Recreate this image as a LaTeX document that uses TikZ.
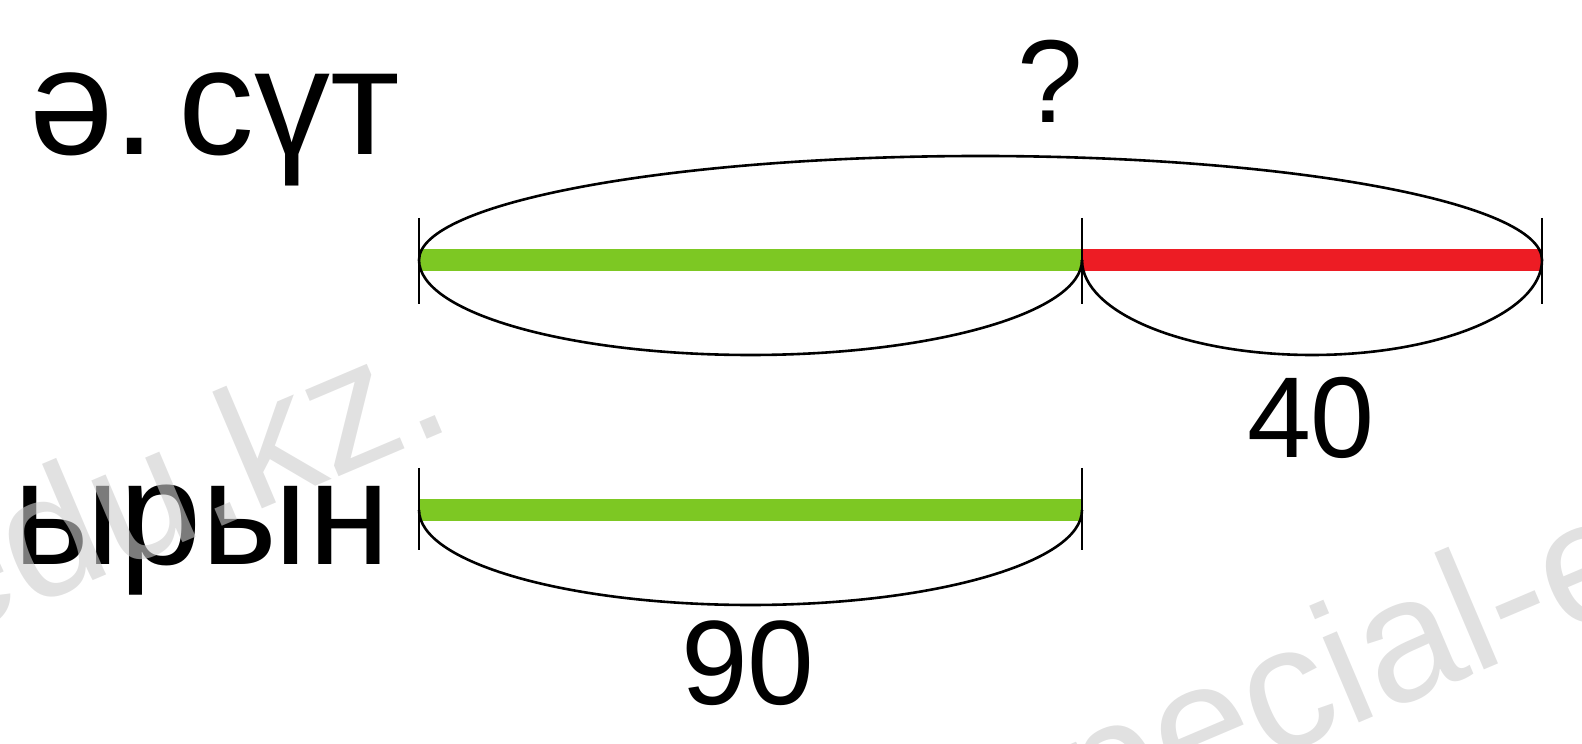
\documentclass[tikz,border=0pt]{standalone}
\usepackage{fontspec}
\setmainfont{Liberation Sans}
\definecolor{bargreen}{RGB}{125,200,35}
\definecolor{barred}{RGB}{237,28,36}
\definecolor{wmark}{RGB}{205,205,205}
\begin{document}
\begin{tikzpicture}[x=1pt,y=1pt,
  bar/.style={line width=22pt,line cap=butt},
  tick/.style={line width=1.8pt},
  brace/.style={line width=2.6pt},
  lbl/.style={inner sep=0pt,font=\fontsize{118}{130}\selectfont},
  word/.style={inner sep=0pt},
  wm/.style={inner sep=0pt,text=wmark,text opacity=0.6,font=\fontsize{175}{190}\selectfont,rotate=23}]
\useasboundingbox (0,0) rectangle (1582,744);
\clip (0,0) rectangle (1582,744);
% coordinates
\coordinate (a) at (419,484);
\coordinate (b) at (1082,484);
\coordinate (c) at (1542,484);
\coordinate (d) at (419,234);
\coordinate (e) at (1082,234);
% bars
\draw[bar,bargreen] (a) -- (b);
\draw[bar,barred] (b) -- (c);
\draw[bar,bargreen] (d) -- (e);
% ticks
\foreach \p in {a,b,c} \draw[tick] ([yshift=42pt]\p) -- ([yshift=-44pt]\p);
\foreach \p in {d,e} \draw[tick] ([yshift=42pt]\p) -- ([yshift=-40pt]\p);
% arcs
\draw[brace] (a) arc[start angle=180,end angle=0,x radius=561.5,y radius=104];
\draw[brace] (a) arc[start angle=180,end angle=360,x radius=331.5,y radius=95];
\draw[brace] (b) arc[start angle=180,end angle=360,x radius=230,y radius=95];
\draw[brace] (d) arc[start angle=180,end angle=360,x radius=331.5,y radius=95];
% texts
\node[word,anchor=base west,font=\fontsize{152}{160}\selectfont] (t1) at (29,589) {ә.\hspace{0.15em}сүт};
\node[word,anchor=base east,font=\fontsize{148}{160}\selectfont] (t2) at (390,179) {ырын};
\node[lbl,anchor=base] (q) at (1050,621) {?};
\node[lbl,anchor=base,font=\fontsize{115}{125}\selectfont] (n40) at (1311,286) {40};
\node[lbl,anchor=base,font=\fontsize{120}{130}\selectfont] (n90) at (748,39) {90};
% watermark
\node[wm,anchor=base east] (wm1) at (458,318) {special-edu.kz.};
\node[wm,anchor=base west] (wm2) at (1008,-128) {special-edu.kz.};
\end{tikzpicture}
\end{document}
